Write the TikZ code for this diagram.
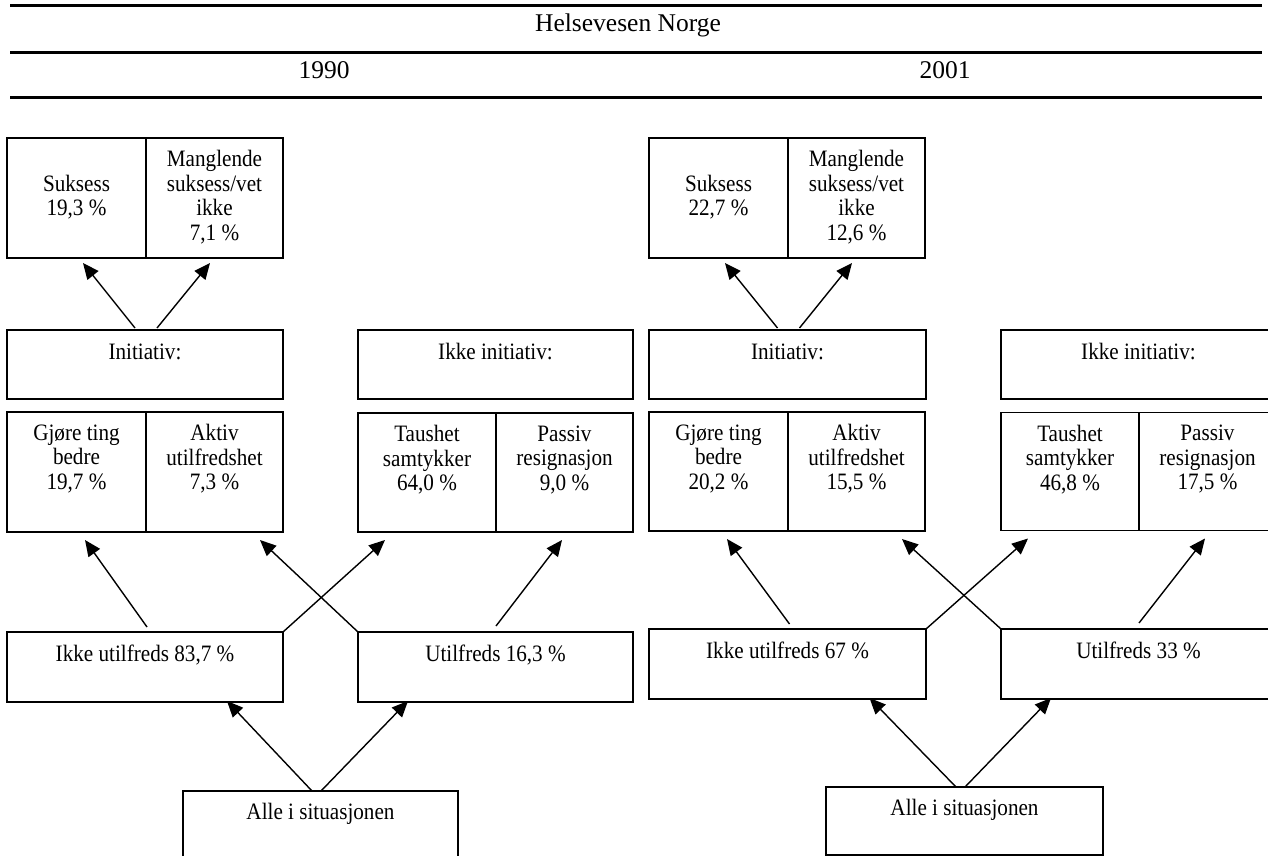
\documentclass[tikz,border=0pt]{standalone}
\usepackage{fontspec}
\setmainfont{Liberation Serif}
\newfontfamily\boxfam[FakeStretch=0.9]{Liberation Serif}
\usetikzlibrary{arrows.meta,calc}
\newcommand\boxfont{\boxfam\fontsize{23.5}{24.5}\selectfont}
\newcommand\headfont{\fontsize{25.5}{29}\selectfont}

\begin{document}
\begin{tikzpicture}[x=1pt,y=-1pt,
  cell/.style={draw, line width=1.8pt, inner sep=0pt, outer sep=0pt},
  txt/.style={anchor=north, inner sep=0pt, align=center, font=\boxfont,
              execute at begin node=\strut},
  head/.style={anchor=base, inner sep=0pt, font=\headfont},
  rule/.style={line width=2.4pt},
  arr/.style={line width=1.4pt, -{Triangle[length=16pt,width=14pt]}}]

\useasboundingbox (0,0) rectangle (1268,856);
\clip (0,0) rectangle (1268,856);

% ---------- table head ----------
\draw[rule] (10,5.7) -- (1262,5.7);
\node[head] (hdr) at (628,31.4) {Helsevesen Norge};
\draw[rule] (10,52.7) -- (1262,52.7);
\node[head] (y1990) at (324,78.5) {1990};
\node[head] (y2001) at (945,78.5) {2001};
\draw[rule] (10,97.7) -- (1262,97.7);

% ---------- 1990 ----------
\node[cell, minimum width=139, minimum height=120] (L-suk)  at (76.5,198) {};
\node[cell, minimum width=137, minimum height=120] (L-mang) at (214.5,198) {};
\node[cell, minimum width=276, minimum height=69]  (L-ini)  at (145,364.5) {};
\node[cell, minimum width=275, minimum height=69]  (L-nini) at (495.5,364.5) {};
\node[cell, minimum width=139, minimum height=120] (L-gj)   at (76.5,472) {};
\node[cell, minimum width=137, minimum height=120] (L-ak)   at (214.5,472) {};
\node[cell, minimum width=138, minimum height=119] (L-ta)   at (427,472.5) {};
\node[cell, minimum width=137, minimum height=119] (L-pa)   at (564.5,472.5) {};
\node[cell, minimum width=276, minimum height=70]  (L-iu)   at (145,667) {};
\node[cell, minimum width=275, minimum height=70]  (L-u)    at (495.5,667) {};
\node[cell, minimum width=275, minimum height=100] (L-alle) at (320.5,841) {};

\node[txt] (L-suk-t)  at ($(L-suk.north)+(0,36.85)$)  {Suksess\\19,3 \%};
\node[txt] (L-mang-t) at ($(L-mang.north)+(0,12.35)$) {Manglende\\suksess/vet\\ikke\\7,1 \%};
\node[txt] (L-ini-t)  at ($(L-ini.north)+(0,12.35)$)  {Initiativ:};
\node[txt] (L-nini-t) at ($(L-nini.north)+(0,12.35)$) {Ikke initiativ:};
\node[txt] (L-gj-t)   at ($(L-gj.north)+(0,12.35)$)   {Gjøre ting\\bedre\\19,7 \%};
\node[txt] (L-ak-t)   at ($(L-ak.north)+(0,12.35)$)   {Aktiv\\utilfredshet\\7,3 \%};
\node[txt] (L-ta-t)   at ($(L-ta.north)+(0,12.35)$)   {Taushet\\samtykker\\64,0 \%};
\node[txt] (L-pa-t)   at ($(L-pa.north)+(0,12.35)$)   {Passiv\\resignasjon\\9,0 \%};
\node[txt] (L-iu-t)   at ($(L-iu.north)+(0,12.35)$)   {Ikke utilfreds 83,7 \%};
\node[txt] (L-u-t)    at ($(L-u.north)+(0,12.35)$)    {Utilfreds 16,3 \%};
\node[txt] (L-alle-t) at ($(L-alle.north)+(0,11.35)$) {Alle i situasjonen};

\draw[arr] ($(L-ini.north)+(-10,-2)$) -- ($(L-suk.south)+(6.5,5)$);
\draw[arr] ($(L-ini.north)+(12,-2)$)  -- ($(L-mang.south)+(-4.5,5)$);
\draw[arr] ($(L-iu.north)+(2,-5)$)    -- ($(L-gj.south)+(8.5,8)$);
\draw[arr] (L-iu.north east)          -- ($(L-ta.south)+(-42,8)$);
\draw[arr] (L-u.north west)           -- ($(L-ak.south)+(45.5,8)$);
\draw[arr] ($(L-u.north)+(0.5,-6)$)   -- ($(L-pa.south)+(-2.5,8)$);
\draw[arr] ($(L-alle.north)+(-8.5,0)$) -- ($(L-iu.south)+(82,-1)$);
\draw[arr] ($(L-alle.north)+(0.5,0)$)  -- ($(L-u.south)+(-87.5,-1)$);

% ---------- 2001 ----------
\node[cell, minimum width=139, minimum height=120] (R-suk)  at (718.5,198) {};
\node[cell, minimum width=137, minimum height=120] (R-mang) at (856.5,198) {};
\node[cell, minimum width=277, minimum height=69]  (R-ini)  at (787.5,364.5) {};
\node[cell, minimum width=275, minimum height=69]  (R-nini) at (1138.5,364.5) {};
\node[cell, minimum width=139, minimum height=119] (R-gj)   at (718.5,471.5) {};
\node[cell, minimum width=137, minimum height=119] (R-ak)   at (856.5,471.5) {};
\node[cell, minimum width=138, minimum height=118] (R-ta)   at (1070,471.5) {};
\node[cell, minimum width=137, minimum height=118] (R-pa)   at (1207.5,471.5) {};
\node[cell, minimum width=277, minimum height=70]  (R-iu)   at (787.5,664) {};
\node[cell, minimum width=275, minimum height=70]  (R-u)    at (1138.5,664) {};
\node[cell, minimum width=277, minimum height=68]  (R-alle) at (964.5,821) {};

\node[txt] (R-suk-t)  at ($(R-suk.north)+(0,36.85)$)  {Suksess\\22,7 \%};
\node[txt] (R-mang-t) at ($(R-mang.north)+(0,12.35)$) {Manglende\\suksess/vet\\ikke\\12,6 \%};
\node[txt] (R-ini-t)  at ($(R-ini.north)+(0,12.35)$)  {Initiativ:};
\node[txt] (R-nini-t) at ($(R-nini.north)+(0,12.35)$) {Ikke initiativ:};
\node[txt] (R-gj-t)   at ($(R-gj.north)+(0,12.35)$)   {Gjøre ting\\bedre\\20,2 \%};
\node[txt] (R-ak-t)   at ($(R-ak.north)+(0,12.35)$)   {Aktiv\\utilfredshet\\15,5 \%};
\node[txt] (R-ta-t)   at ($(R-ta.north)+(0,12.35)$)   {Taushet\\samtykker\\46,8 \%};
\node[txt] (R-pa-t)   at ($(R-pa.north)+(0,12.35)$)   {Passiv\\resignasjon\\17,5 \%};
\node[txt] (R-iu-t)   at ($(R-iu.north)+(0,12.35)$)   {Ikke utilfreds 67 \%};
\node[txt] (R-u-t)    at ($(R-u.north)+(0,12.35)$)    {Utilfreds 33 \%};
\node[txt] (R-alle-t) at ($(R-alle.north)+(0,11.35)$) {Alle i situasjonen};

\draw[arr] ($(R-ini.north)+(-10,-2)$) -- ($(R-suk.south)+(6.5,5)$);
\draw[arr] ($(R-ini.north)+(12,-2)$)  -- ($(R-mang.south)+(-4.5,5)$);
\draw[arr] ($(R-iu.north)+(2,-5)$)    -- ($(R-gj.south)+(8.5,8)$);
\draw[arr] (R-iu.north east)          -- ($(R-ta.south)+(-42,8)$);
\draw[arr] (R-u.north west)           -- ($(R-ak.south)+(45.5,8)$);
\draw[arr] ($(R-u.north)+(0.5,-6)$)   -- ($(R-pa.south)+(-2.5,8)$);
\draw[arr] ($(R-alle.north)+(-8.5,0)$) -- ($(R-iu.south)+(82,-1)$);
\draw[arr] ($(R-alle.north)+(0.5,0)$)  -- ($(R-u.south)+(-87.5,-1)$);

\end{tikzpicture}
\end{document}
